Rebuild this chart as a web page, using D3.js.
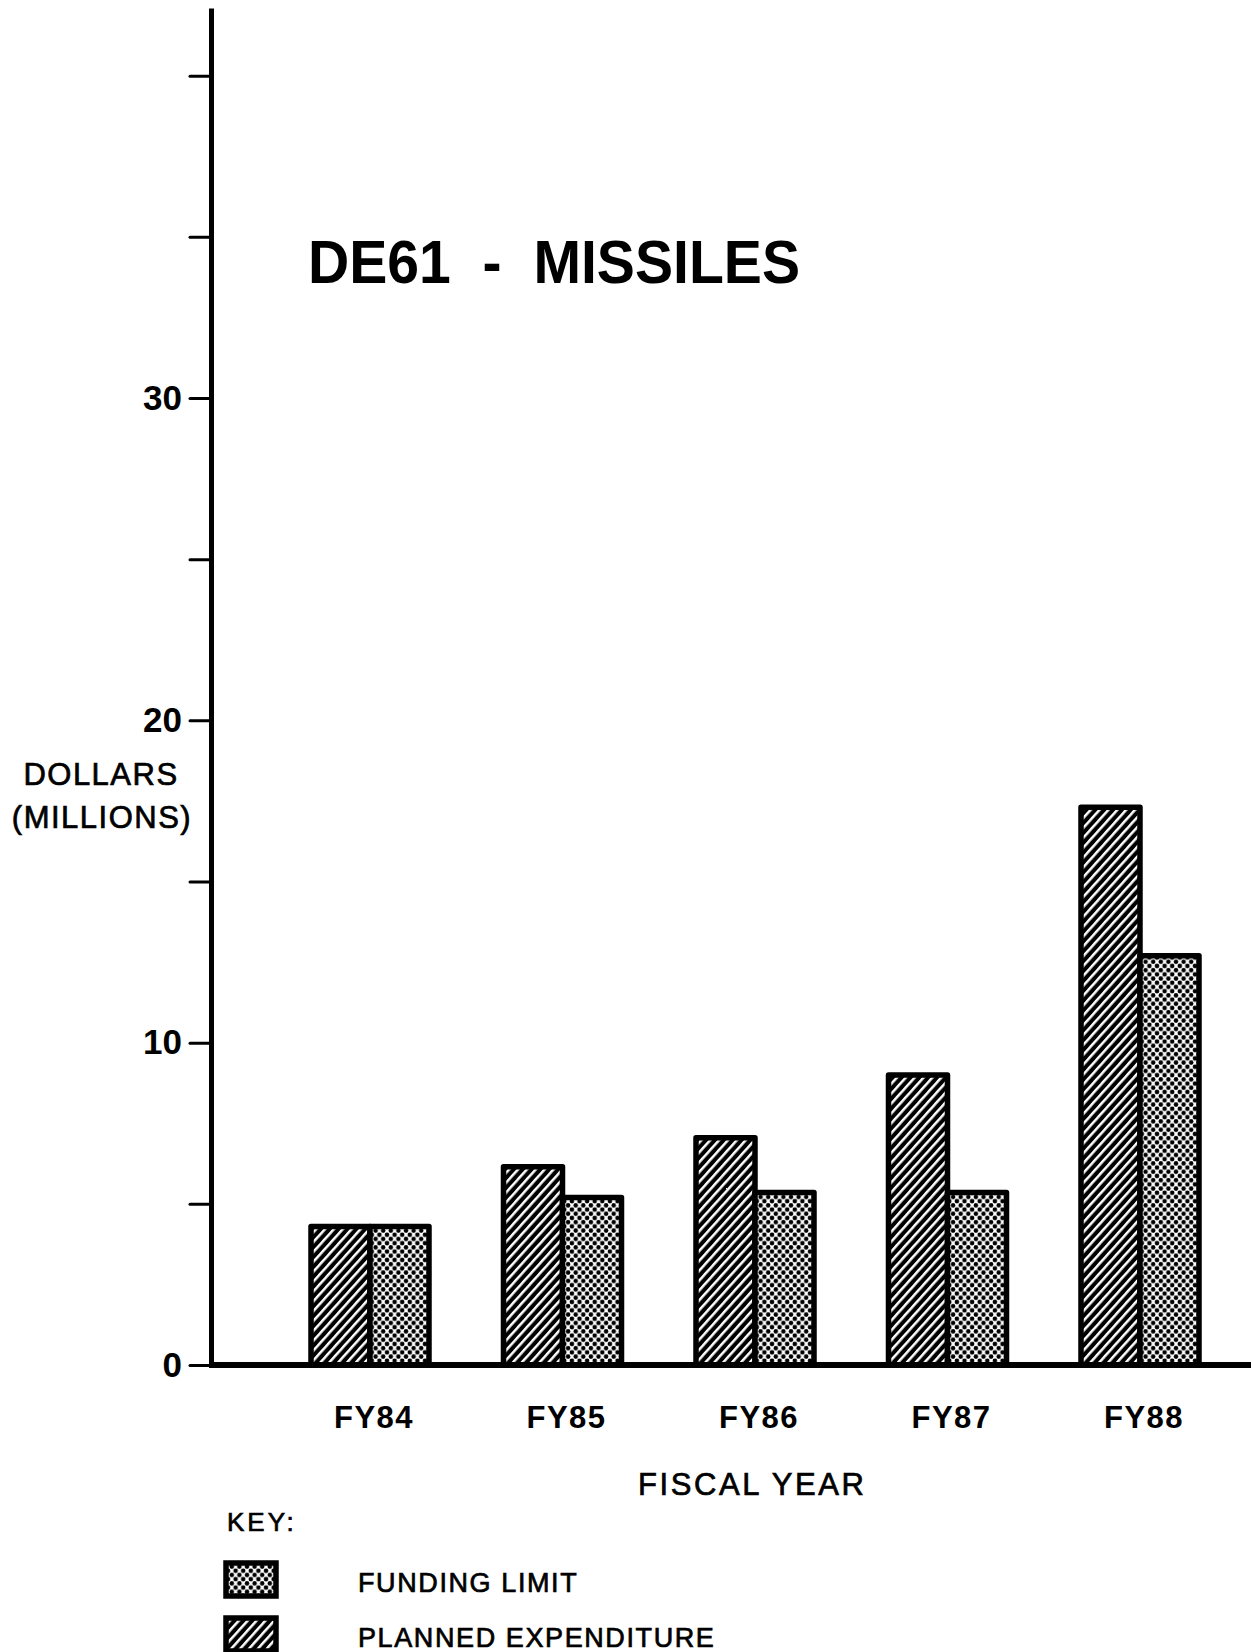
<!DOCTYPE html>
<html>
<head>
<meta charset="utf-8">
<script src="https://cdn.jsdelivr.net/npm/d3@7"></script>
<style>
  html, body { margin: 0; padding: 0; background: #fff; }
  svg { display: block; }
  text { font-family: "Liberation Sans", Arial, Helvetica, sans-serif; fill: #000; }
</style>
</head>
<body>
<svg id="chart" width="1251" height="1652"></svg>
<script>
// ---- data ----
const categories = ["FY84", "FY85", "FY86", "FY87", "FY88"];
const seriesNames = ["PLANNED EXPENDITURE", "FUNDING LIMIT"];
const plannedExpenditure = [4.3, 6.15, 7.05, 9.0, 17.3];
const fundingLimit = [4.3, 5.2, 5.35, 5.35, 12.7];
const yTickValues = [0, 5, 10, 15, 20, 25, 30, 35, 40];
const yTickLabels = ["0", "", "10", "", "20", "", "30", "", ""];
const titleText = "DE61  -  MISSILES";
const xAxisTitle = "FISCAL YEAR";
const yAxisTitle = ["DOLLARS", "(MILLIONS)"];
const legendTitle = "KEY:";
const legendItems = ["FUNDING LIMIT", "PLANNED EXPENDITURE"];

const svg = d3.select("#chart");
const W = 1251;

// ---- patterns ----
const defs = svg.append("defs");
const hatch = defs.append("pattern")
  .attr("id", "hatch").attr("patternUnits", "userSpaceOnUse")
  .attr("width", 6.6).attr("height", 6.6)
  .attr("patternTransform", "rotate(42)");
hatch.append("rect").attr("width", 6.6).attr("height", 6.6).attr("fill", "#000");
hatch.append("rect").attr("x", 0).attr("width", 2.5).attr("height", 6.6).attr("fill", "#fff");

const dots = defs.append("pattern")
  .attr("id", "dots").attr("patternUnits", "userSpaceOnUse")
  .attr("width", 7.6).attr("height", 8.4);
dots.append("rect").attr("width", 7.6).attr("height", 8.4).attr("fill", "#fff");
[[0, 0], [7.6, 0], [3.8, 4.2], [0, 8.4], [7.6, 8.4]].forEach(([cx, cy]) =>
  dots.append("circle").attr("cx", cx).attr("cy", cy).attr("r", 2.3).attr("fill", "#000"));

const fills = { "PLANNED EXPENDITURE": "url(#hatch)", "FUNDING LIMIT": "url(#dots)" };

// ---- scales ----
const y = d3.scaleLinear().domain([0, 42.1]).range([1365, 8]);
const x = d3.scaleBand().domain(categories).range([311, 1199]).paddingInner(0.387).paddingOuter(0);
const xInner = d3.scaleBand().domain(seriesNames).range([0, x.bandwidth()]).padding(0);
const axisX = 211;

// ---- bars ----
const rows = categories.map((c, i) => ({
  cat: c,
  vals: [
    { key: seriesNames[0], v: plannedExpenditure[i] },
    { key: seriesNames[1], v: fundingLimit[i] }
  ]
}));

const groups = svg.append("g").selectAll("g").data(rows).join("g")
  .attr("transform", d => `translate(${x(d.cat)},0)`);
groups.selectAll("rect").data(d => d.vals).join("rect")
  .attr("x", d => xInner(d.key))
  .attr("y", d => y(d.v))
  .attr("width", xInner.bandwidth())
  .attr("height", d => y(0) - y(d.v))
  .attr("fill", d => fills[d.key])
  .attr("stroke", "#000")
  .attr("stroke-width", 5.5)
  .attr("stroke-linejoin", "round");

// ---- y axis ----
const yAxis = d3.axisLeft(y)
  .tickValues(yTickValues)
  .tickSize(21)
  .tickSizeOuter(0)
  .tickPadding(8)
  .tickFormat((d, i) => yTickLabels[i]);
const gy = svg.append("g").attr("transform", `translate(${axisX},0)`).call(yAxis);
gy.select(".domain").attr("stroke", "#000").attr("stroke-width", 5);
gy.selectAll(".tick line").attr("stroke", "#000").attr("stroke-width", 3).attr("stroke-linecap", "round");
gy.selectAll(".tick text")
  .attr("font-size", 35).attr("font-weight", "bold")
  .attr("font-family", "'Liberation Sans', Arial, sans-serif");

// ---- x axis ----
const xAxis = d3.axisBottom(x).tickSize(0).tickPadding(41);
const gx = svg.append("g").attr("transform", `translate(4,${y(0)})`).call(xAxis);
gx.select(".domain").remove();
gx.selectAll(".tick text")
  .attr("font-size", 31).attr("font-weight", "bold")
  .attr("letter-spacing", 1.5)
  .attr("font-family", "'Liberation Sans', Arial, sans-serif");

// baseline
svg.append("line")
  .attr("x1", axisX - 2).attr("x2", W)
  .attr("y1", y(0)).attr("y2", y(0))
  .attr("stroke", "#000").attr("stroke-width", 6);

// ---- title ----
svg.append("text")
  .attr("x", 308).attr("y", 283)
  .attr("font-size", 61).attr("font-weight", "bold")
  .attr("textLength", 492).attr("lengthAdjust", "spacingAndGlyphs")
  .attr("xml:space", "preserve")
  .style("white-space", "pre")
  .text(titleText);

// ---- axis titles ----
const medium = sel => sel.attr("stroke", "#000").attr("stroke-width", 0.7);
svg.append("text").attr("x", 101).attr("y", 785)
  .attr("text-anchor", "middle").attr("font-size", 31).attr("letter-spacing", 1.5)
  .text(yAxisTitle[0]).call(medium);
svg.append("text").attr("x", 102).attr("y", 828)
  .attr("text-anchor", "middle").attr("font-size", 31).attr("letter-spacing", 1.5)
  .text(yAxisTitle[1]).call(medium);

svg.append("text").attr("x", 638).attr("y", 1495)
  .attr("font-size", 31).attr("letter-spacing", 2.6)
  .text(xAxisTitle).call(medium);

// ---- legend ----
svg.append("text").attr("x", 227).attr("y", 1531)
  .attr("font-size", 26).attr("letter-spacing", 3)
  .text(legendTitle).call(medium);

const legendKeys = ["FUNDING LIMIT", "PLANNED EXPENDITURE"];
const legendY = [1563, 1618];
legendKeys.forEach((k, i) => {
  svg.append("rect")
    .attr("x", 226).attr("y", legendY[i])
    .attr("width", 50).attr("height", 33)
    .attr("fill", fills[k]).attr("stroke", "#000").attr("stroke-width", 5.5);
  svg.append("text")
    .attr("x", 358).attr("y", legendY[i] + 29)
    .attr("font-size", 27).attr("letter-spacing", 1.6)
    .text(legendItems[i]).call(medium);
});
</script>
</body>
</html>
